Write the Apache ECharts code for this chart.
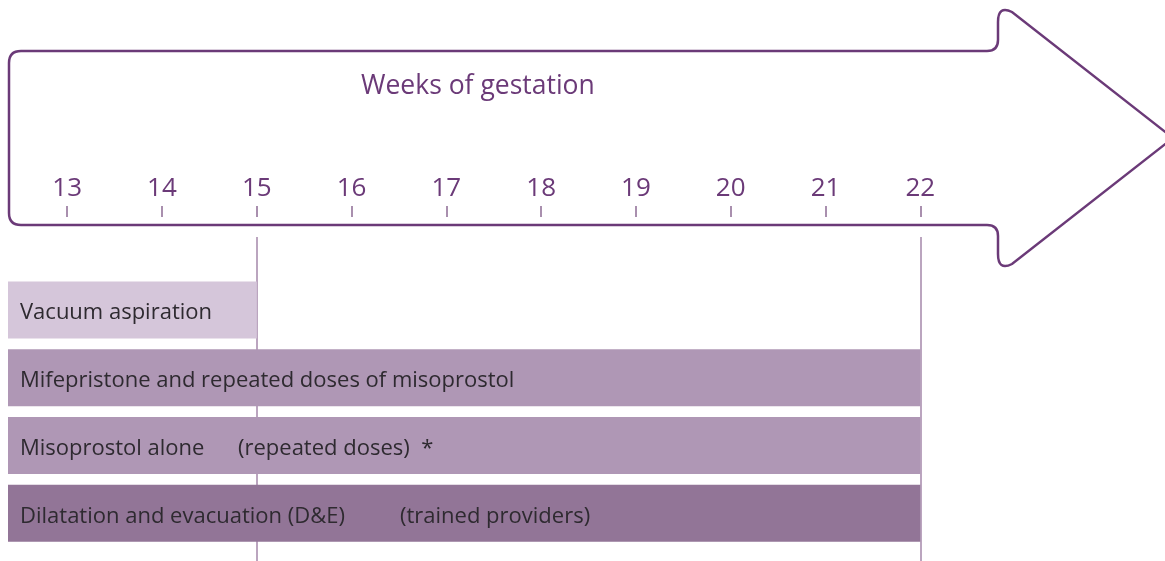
<!DOCTYPE html>
<html>
<head>
<meta charset="utf-8">
<script src="https://cdn.jsdelivr.net/npm/echarts@6/dist/echarts.min.js"></script>
<style>
html,body{margin:0;padding:0;background:#fff;}
#chart{width:1165px;height:561px;}
</style>
</head>
<body>
<div id="chart"></div>
<script>
// ---- data ----
const methods = ['Vacuum aspiration', 'Mifepristone and repeated doses of misoprostol', 'Misoprostol alone', 'Dilatation and evacuation (D&E)'];
const notes = ['', '', '(repeated doses)  *', '(trained providers)'];
const startWeek = [12.375, 12.375, 12.375, 12.375];
const endWeek = [15, 22, 22, 22];
const weekTicks = [13, 14, 15, 16, 17, 18, 19, 20, 21, 22];
const dividerWeeks = [15, 22];
const title = 'Weeks of gestation';

// ---- style ----
const barColors = ['#d5c6da', '#af97b5', '#af97b5', '#927597'];
const noteOffset = [0, 0, 230, 392];
const FONT = '"Open Sans", "Noto Sans", sans-serif';
const purple = '#6b3a78';

// decorative arrow outline
echarts.graphic.registerShape('gestArrow', echarts.graphic.extendShape({
  shape: {},
  buildPath: function (ctx) {
    ctx.moveTo(21, 51);
    ctx.lineTo(987, 51);
    ctx.quadraticCurveTo(998, 51, 998, 40);
    ctx.lineTo(998, 22);
    ctx.quadraticCurveTo(998, 5, 1012, 12);
    ctx.lineTo(1173, 138);
    ctx.lineTo(1012, 264);
    ctx.quadraticCurveTo(998, 271, 998, 254);
    ctx.lineTo(998, 236);
    ctx.quadraticCurveTo(998, 225, 987, 225);
    ctx.lineTo(21, 225);
    ctx.quadraticCurveTo(9, 225, 9, 213);
    ctx.lineTo(9, 63);
    ctx.quadraticCurveTo(9, 51, 21, 51);
    ctx.closePath();
  }
}));

const chart = echarts.init(document.getElementById('chart'), null, {renderer: 'canvas'});

const option = {
  animation: false,
  backgroundColor: '#ffffff',
  title: {
    text: title,
    left: 356, top: 68,
    textStyle: {fontFamily: FONT, fontSize: 26.5, fontWeight: 'normal', color: purple}
  },
  graphic: [{
    type: 'gestArrow', z: -10, silent: true,
    shape: {},
    style: {fill: null, stroke: purple, lineWidth: 2.5}
  }],
  grid: [
    {left: 8, right: 244.7, top: 276, height: 271.2, containLabel: false},
    {left: 67.2, right: 244.7, top: 237, bottom: 0, containLabel: false}
  ],
  xAxis: [
    {gridIndex: 0, type: 'value', min: 12.375, max: 22, show: false},
    {gridIndex: 1, type: 'value', min: weekTicks[0], max: weekTicks[weekTicks.length - 1], interval: 1,
     position: 'top', offset: 20,
     axisLine: {show: false, onZero: false},
     axisTick: {show: true, length: 11, lineStyle: {color: '#8d6b94', width: 1.5}},
     splitLine: {show: false},
     axisLabel: {margin: 15, fontFamily: FONT, fontSize: 26, color: purple,
       formatter: v => (weekTicks.indexOf(v) >= 0 ? String(v) : '')}}
  ],
  yAxis: [
    {gridIndex: 0, type: 'category', data: methods, inverse: true, show: false},
    {gridIndex: 1, type: 'value', min: 0, max: 1, show: false}
  ],
  series: [
    {
      type: 'line', xAxisIndex: 1, yAxisIndex: 1, data: [], silent: true, z: 1,
      markLine: {
        silent: true, symbol: 'none', label: {show: false},
        lineStyle: {type: 'solid', color: '#a487aa', width: 1.5},
        data: dividerWeeks.map(w => ({xAxis: w}))
      }
    },
    {
      type: 'custom', xAxisIndex: 0, yAxisIndex: 0, z: 5,
      data: methods.map((m, i) => [i, startWeek[i], endWeek[i]]),
      renderItem: function (params, api) {
        const i = api.value(0);
        const p0 = api.coord([api.value(1), i]);
        const p1 = api.coord([api.value(2), i]);
        const h = api.size([0, 1])[1] * 0.84;
        const children = [
          {type: 'rect', shape: {x: p0[0], y: p0[1] - h / 2, width: p1[0] - p0[0], height: h},
           style: {fill: barColors[i]}},
          {type: 'text', style: {text: methods[i], x: p0[0] + 12, y: p0[1] + 3, verticalAlign: 'middle',
            font: '22px ' + FONT, fill: '#2e2a30'}}
        ];
        if (notes[i]) {
          children.push({type: 'text', style: {text: notes[i], x: p0[0] + noteOffset[i], y: p0[1] + 3,
            verticalAlign: 'middle', font: '22px ' + FONT, fill: '#2e2a30'}});
        }
        return {type: 'group', children: children};
      }
    }
  ]
};
chart.setOption(option);
</script>
</body>
</html>
